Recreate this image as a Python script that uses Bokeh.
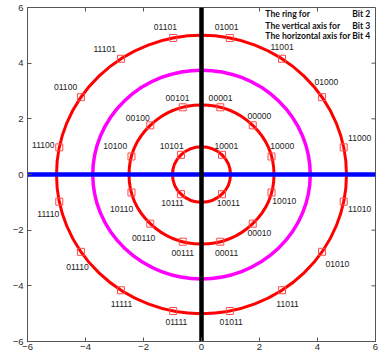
from bokeh.plotting import figure
from bokeh.models import LinearAxis, FixedTicker, Range1d, ColumnDataSource, Span
from bokeh.core.properties import value
from bokeh.embed import file_html
from bokeh.resources import INLINE
import numpy as np

# ---------------- data ----------------
ring_radii = [1.0, 2.5, 5.0]
bit2_ring_radius = 3.75

ring1_angles = [45, 135, 225, 315]
ring1_labels = ["10001", "10101", "10111", "10011"]

ring2_angles = [15, 45, 75, 105, 135, 165, 195, 225, 255, 285, 315, 345]
ring2_labels = ["10000", "00000", "00001", "00101", "00100", "10100",
                "10110", "00110", "00111", "00011", "00010", "10010"]

ring3_angles = [11.25, 33.75, 56.25, 78.75, 101.25, 123.75, 146.25, 168.75,
                191.25, 213.75, 236.25, 258.75, 281.25, 303.75, 326.25, 348.75]
ring3_labels = ["11000", "01000", "11001", "01001", "01101", "11101", "01100", "11100",
                "11110", "01110", "11111", "01111", "01011", "11011", "01010", "11010"]

axis_ticks = [-6, -4, -2, 0, 2, 4, 6]
legend_rows = ["The ring  for", "The vertical axis for", "The horizontal axis for"]
legend_bits = ["Bit 2", "Bit 3", "Bit 4"]

# ---------------- layout (label offsets, data units) ----------------
ring1_off = [(0.15, 0.33), (-0.32, 0.33), (-0.29, -0.33), (0.22, -0.33)]
ring2_off = [(0.37, 0.39), (0.23, 0.32), (0.01, 0.32), (-0.18, 0.32), (-0.43, 0.28), (-0.56, 0.39),
             (-0.34, -0.58), (-0.23, -0.50), (0.0, -0.39), (0.22, -0.39), (0.23, -0.35), (0.44, -0.29)]
ring3_off = [(0.55, 0.35), (0.15, 0.53), (0.0, 0.41), (-0.11, 0.39), (-0.27, 0.39), (-0.56, 0.34),
             (-0.53, 0.35), (-0.55, 0.07), (-0.38, -0.46), (-0.12, -0.56), (0.02, -0.48), (0.11, -0.39),
             (0.05, -0.39), (0.19, -0.48), (0.53, -0.42), (0.55, -0.25)]
legend_x_left = 2.2
legend_x_right = 5.82
legend_y = [5.75, 5.35, 4.96]

xs, ys, labs, lx, ly = [], [], [], [], []
for r, angs, lbls, offs in zip(ring_radii, [ring1_angles, ring2_angles, ring3_angles],
                              [ring1_labels, ring2_labels, ring3_labels],
                              [ring1_off, ring2_off, ring3_off]):
    for a, l, (dx, dy) in zip(angs, lbls, offs):
        x = r * np.cos(np.deg2rad(a))
        y = r * np.sin(np.deg2rad(a))
        xs.append(x); ys.append(y); labs.append(l)
        lx.append(x + dx); ly.append(y + dy)

src = ColumnDataSource(dict(x=xs, y=ys, lab=labs, lx=lx, ly=ly))

lo, hi = axis_ticks[0], axis_ticks[-1]
p = figure(width=381, height=358, output_backend="svg", toolbar_location=None,
           x_range=Range1d(lo, hi), y_range=Range1d(lo, hi),
           min_border_left=27, min_border_right=6, min_border_top=7, min_border_bottom=17)
p.xgrid.visible = False
p.ygrid.visible = False
p.outline_line_color = "#555555"
p.background_fill_color = "white"
p.border_fill_color = "white"

axcol = "#555555"
for ax in [p.xaxis[0], p.yaxis[0]]:
    ax.ticker = FixedTicker(ticks=axis_ticks)
    ax.major_tick_in = 4
    ax.major_tick_out = 0
    ax.minor_tick_line_color = None
    ax.axis_line_color = axcol
    ax.major_tick_line_color = axcol
    ax.major_label_text_font = "Liberation Sans"
    ax.major_label_text_font_size = "9.5px"
    ax.major_label_text_color = "#2a2a2a"
p.xaxis[0].major_label_standoff = 2
p.yaxis[0].major_label_standoff = 4

# inward ticks on the top and right edges of the box
inner = axis_ticks[1:-1]
p.scatter(x=inner, y=[hi] * len(inner), marker="dash", angle=np.pi / 2, size=8,
          line_color=axcol, line_width=1)
p.scatter(x=[hi] * len(inner), y=inner, marker="dash", size=8,
          line_color=axcol, line_width=1)

# rings
for r in ring_radii:
    p.ellipse(x=0, y=0, width=2 * r, height=2 * r, fill_color=None,
              line_color="#ff0000", line_width=3)
p.ellipse(x=0, y=0, width=2 * bit2_ring_radius, height=2 * bit2_ring_radius,
          fill_color=None, line_color="#ff00ff", line_width=3.5)

# axes lines for bits 3 and 4
p.add_layout(Span(location=0, dimension="width", line_color="#0000ff", line_width=4.5, level="glyph"))
p.add_layout(Span(location=0, dimension="height", line_color="#000000", line_width=4.5, level="glyph"))

# constellation points
p.scatter("x", "y", source=src, marker="square", size=7, fill_color=None,
          line_color="#ff4a4a", line_width=1, level="overlay")
p.text("lx", "ly", text="lab", source=src, text_font=value("Liberation Sans"),
       text_font_size="8.6px", text_color="#222222", text_align="center",
       text_baseline="middle")

# legend text
p.text(x=[legend_x_left] * 3, y=legend_y, text=legend_rows, text_font=value("Lato"),
       text_font_style="bold", text_font_size="8.6px", text_color="#111111",
       text_align="left", text_baseline="middle")
p.text(x=[legend_x_right] * 3, y=legend_y, text=legend_bits, text_font=value("Lato"),
       text_font_style="bold", text_font_size="8.6px", text_color="#111111",
       text_align="right", text_baseline="middle")

open("out.html", "w").write(file_html(p, INLINE))
